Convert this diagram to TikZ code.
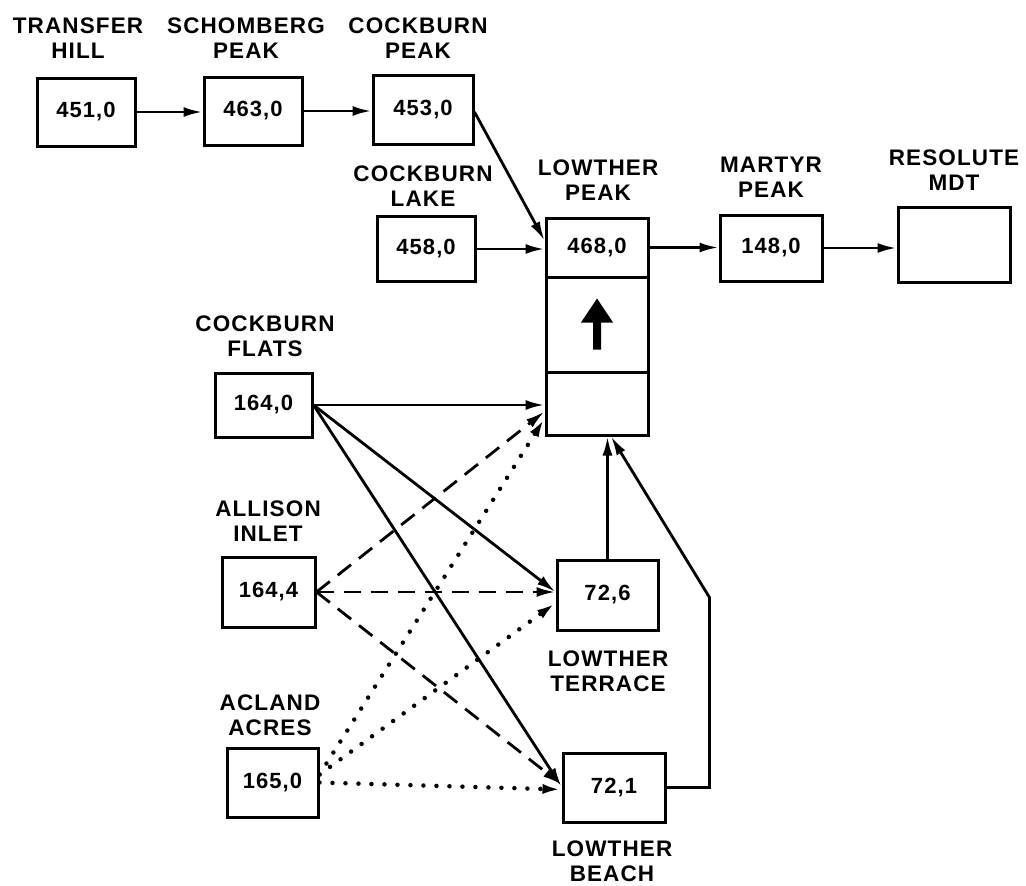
\documentclass[tikz,border=0pt]{standalone}
\usepackage{fontspec}
\setmainfont{Liberation Sans}[LetterSpace=5]
\usetikzlibrary{arrows.meta,calc}
\tikzset{
  bx/.style={draw, line width=3pt, inner sep=0pt, font=\fontsize{22}{24}\selectfont\bfseries},
  lab/.style={align=center, inner sep=0pt, font=\fontsize{22.5}{25}\selectfont\bfseries},
  conn/.style={line width=2.8pt, -{Latex[length=19pt,width=10pt]}},
  dsh/.style={conn, dash pattern=on 17pt off 10pt},
  dtt/.style={conn, line width=4.5pt, line cap=round, dash pattern=on 0pt off 13pt},
}
\begin{document}
\begin{tikzpicture}[x=1pt,y=-1pt]
\useasboundingbox (0,0) rectangle (1026,886);
% boxes
\node[bx, minimum width=98pt, minimum height=68pt] (b451) at (86,112) {451,0};
\node[bx, minimum width=98pt, minimum height=68pt] (b463) at (253,111) {463,0};
\node[bx, minimum width=100pt, minimum height=69pt] (b453) at (423,110) {453,0};
\node[bx, minimum width=98pt, minimum height=65pt] (b458) at (426,249) {458,0};
\node[bx, minimum width=102pt, minimum height=59pt] (t1) at (597,247.5) {468,0};
\node[bx, minimum width=102pt, minimum height=95pt] (t2) at (597,324.5) {};
\node[bx, minimum width=102pt, minimum height=63pt] (t3) at (597,403.5) {};
\node[bx, minimum width=102pt, minimum height=66pt] (b148) at (771,248) {148,0};
\node[bx, minimum width=112pt, minimum height=75pt] (mdt) at (954,245) {};
\node[bx, minimum width=97pt, minimum height=64pt] (b1640) at (263.5,405) {164,0};
\node[bx, minimum width=93pt, minimum height=70pt] (b1644) at (268.5,592) {164,4};
\node[bx, minimum width=91pt, minimum height=69pt] (b1650) at (272.5,782.5) {165,0};
\node[bx, minimum width=101pt, minimum height=70pt] (b726) at (607.5,595) {72,6};
\node[bx, minimum width=102pt, minimum height=69pt] (b721) at (614,787.5) {72,1};
% arrow in middle cell
\fill ($(t2.center)+(-4,25)$) -- ($(t2.center)+(4,25)$) -- ($(t2.center)+(4,-2)$) -- ($(t2.center)+(16,-2)$)
  -- ($(t2.center)+(0,-26)$) -- ($(t2.center)+(-16,-2)$) -- ($(t2.center)+(-4,-2)$) -- cycle;
% labels
\node[lab] (l451) at (78,38) {TRANSFER\\HILL};
\node[lab] (l463) at (246,38) {SCHOMBERG\\PEAK};
\node[lab] (l453) at (418,38) {COCKBURN\\PEAK};
\node[lab] (l458) at (423,186) {COCKBURN\\LAKE};
\node[lab] (lt) at (598,180) {LOWTHER\\PEAK};
\node[lab] (l148) at (771,177) {MARTYR\\PEAK};
\node[lab] (lmdt) at (954,170) {RESOLUTE\\MDT};
\node[lab] (l1640) at (265,336) {COCKBURN\\FLATS};
\node[lab] (l1644) at (268,521) {ALLISON\\INLET};
\node[lab] (l1650) at (270,715) {ACLAND\\ACRES};
\node[lab] (l726) at (608,671) {LOWTHER\\TERRACE};
\node[lab] (l721) at (612,861) {LOWTHER\\BEACH};
% solid connectors
\draw[conn] (b451.east) -- (b451.east -| b463.west);
\draw[conn] (b463.east) -- (b463.east -| b453.west);
\draw[conn] ([yshift=-2pt]b453.east) -- ([yshift=7pt]t1.west);
\draw[conn] (b458.east) -- (b458.east -| t1.west);
\draw[conn] (t1.east) -- (t1.east -| b148.west);
\draw[conn] (b148.east) -- (b148.east -| mdt.west);
\draw[conn] (b1640.east) -- (b1640.east -| t3.west);
\draw[conn] (b1640.east) -- ([yshift=3pt]b726.west);
\draw[conn] (b1640.east) -- ([yshift=1pt]b721.west);
\draw[conn] (b726.north) -- (b726.north |- t3.south);
\draw[conn] (b721.east) -- ++(43,0) -- ++(0,-190) -- ([xshift=14pt]t3.south);
% dashed connectors
\draw[dsh] (b1644.east) -- ([yshift=-8pt]t3.west);
\draw[dsh] (b1644.east) -- (b1644.east -| b726.west);
\draw[dsh] (b1644.east) -- ([yshift=3pt]b721.west);
% dotted connectors
\draw[dtt] ([yshift=8pt]b1650.east) -- ([yshift=-15pt]t3.west);
\draw[dtt] ([yshift=8pt]b1650.east) -- ([yshift=-8pt]b726.west);
\draw[dtt] (b1650.east) -- ([yshift=-2pt]b721.west);
\end{tikzpicture}
\end{document}
